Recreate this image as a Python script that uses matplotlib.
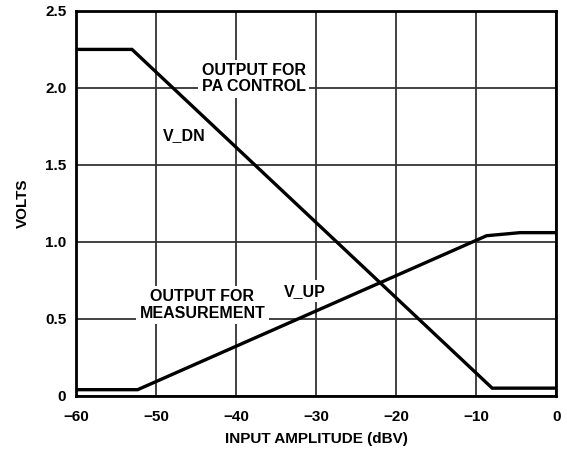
import numpy as np
import matplotlib
matplotlib.use('Agg')
import matplotlib.pyplot as plt

plt.rcParams['font.family'] = ['Liberation Sans', 'DejaVu Sans']
plt.rcParams['font.weight'] = 'bold'

# V_DN curve (output for PA control)
dn_x = [-60, -53, -8.0, 0]
dn_y = [2.25, 2.25, 0.05, 0.05]

# V_UP curve (output for measurement)
up_x = [-60, -52.3, -8.7, -4.5, 0]
up_y = [0.04, 0.04, 1.04, 1.06, 1.06]

xticks = [-60, -50, -40, -30, -20, -10, 0]
yticks = [0, 0.5, 1.0, 1.5, 2.0, 2.5]
ytick_labels = ['0', '0.5', '1.0', '1.5', '2.0', '2.5']

fig = plt.figure(figsize=(5.67, 4.55), dpi=100)
ax = fig.add_axes([0.134, 0.130, 0.847, 0.846])

ax.plot(dn_x, dn_y, color='black', lw=2.4, solid_joinstyle='miter', zorder=3)
ax.plot(up_x, up_y, color='black', lw=2.4, solid_joinstyle='miter', zorder=3)

ax.set_xlim(-60, 0)
ax.set_ylim(0, 2.5)
ax.set_xticks(xticks)
ax.set_yticks(yticks)
ax.set_yticklabels(ytick_labels)
ax.grid(True, color='#333333', lw=1.3)
ax.set_axisbelow(True)
ax.tick_params(length=0, labelsize=11)
ax.tick_params(axis='x', pad=10)
ax.tick_params(axis='y', pad=7)
for s in ax.spines.values():
    s.set_linewidth(2)

ax.set_xlabel('INPUT AMPLITUDE (dBV)', fontsize=11, fontweight='bold', labelpad=6)
ax.set_ylabel('VOLTS', fontsize=11, fontweight='bold', labelpad=11)

box = dict(facecolor='white', edgecolor='none', pad=2.5)
ax.text(-37.8, 2.06, 'OUTPUT FOR\nPA CONTROL', ha='center', va='center',
        fontsize=11.5, fontweight='bold', linespacing=1.1, bbox=box, zorder=4)
ax.text(-46.5, 1.69, 'V_DN', ha='center', va='center', fontsize=11.5, fontweight='bold', zorder=4)
ax.text(-44.2, 0.59, 'OUTPUT FOR\nMEASUREMENT', ha='center', va='center',
        fontsize=11.5, fontweight='bold', linespacing=1.1, bbox=box, zorder=4)
ax.text(-31.4, 0.68, 'V_UP', ha='center', va='center', fontsize=11.5,
        fontweight='bold', bbox=box, zorder=4)

fig.savefig('out.png', dpi=100)
